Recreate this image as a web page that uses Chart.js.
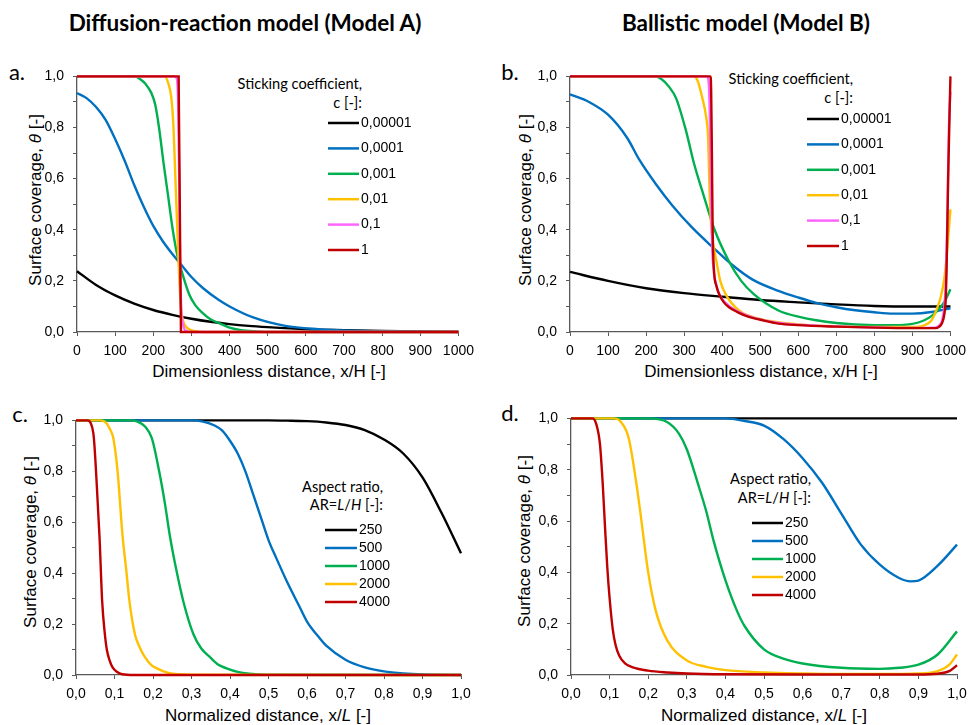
<!DOCTYPE html>
<html>
<head>
<meta charset="utf-8">
<script src="https://cdn.jsdelivr.net/npm/chart.js@4.4.1/dist/chart.umd.min.js"></script>
<style>
  body { margin: 0; background: #fff; }
  #fig { position: relative; width: 968px; height: 725px; overflow: hidden; background: #fff;
         font-family: "Liberation Sans", Arial, sans-serif; color: #000; }
  canvas { position: absolute; }
  .t { position: absolute; white-space: nowrap; line-height: 1; }
  .c { transform: translate(-50%, -50%); }
  .r { transform: translate(-100%, -50%); }
  .head { font-family: Lato, sans-serif; font-weight: bold; font-size: 22.5px; }
  .lab { font-family: Lato, sans-serif; font-size: 22px; }
  .xt { font-size: 17px; }
  .yt { font-size: 17px; transform: translate(-50%, -50%) rotate(-90deg); }
  .lt { font-family: Lato, sans-serif; font-size: 14.6px; }
</style>
</head>
<body>
<div id="fig">
  <div class="t c head" style="left:245px;top:23px">Diffusion-reaction model (Model A)</div>
  <div class="t c head" style="left:746px;top:23px">Ballistic model (Model B)</div>

  <div class="t c lab" style="left:17px;top:72px">a.</div>
  <div class="t c lab" style="left:510px;top:72px">b.</div>
  <div class="t c lab" style="left:20px;top:414px">c.</div>
  <div class="t c lab" style="left:510px;top:413px">d.</div>

  <div class="t yt" style="left:35px;top:200px">Surface coverage, <i>θ</i> [-]</div>
  <div class="t yt" style="left:525px;top:200px">Surface coverage, <i>θ</i> [-]</div>
  <div class="t yt" style="left:30px;top:542px">Surface coverage, <i>θ</i> [-]</div>
  <div class="t yt" style="left:524px;top:541px">Surface coverage, <i>θ</i> [-]</div>

  <div class="t c xt" style="left:269px;top:371px">Dimensionless distance, x/H [-]</div>
  <div class="t c xt" style="left:761px;top:371px">Dimensionless distance, x/H [-]</div>
  <div class="t c xt" style="left:268px;top:715px">Normalized distance, x/<i>L</i> [-]</div>
  <div class="t c xt" style="left:764px;top:715px">Normalized distance, x/<i>L</i> [-]</div>

  <div class="t r lt" style="left:362px;top:84px">Sticking coefficient,</div>
  <div class="t r lt" style="left:362px;top:103px">c [-]:</div>
  <div class="t r lt" style="left:853px;top:79px">Sticking coefficient,</div>
  <div class="t r lt" style="left:853px;top:98px">c [-]:</div>
  <div class="t r lt" style="left:383px;top:487px">Aspect ratio,</div>
  <div class="t r lt" style="left:383px;top:505px">AR=<i>L</i>/<i>H</i> [-]:</div>
  <div class="t r lt" style="left:811px;top:479px">Aspect ratio,</div>
  <div class="t r lt" style="left:811px;top:498px">AR=<i>L</i>/<i>H</i> [-]:</div>

  <canvas id="chartA"></canvas>
  <canvas id="chartB"></canvas>
  <canvas id="chartC"></canvas>
  <canvas id="chartD"></canvas>
</div>

<script>
// legend labels
const stickLabels = ['0,00001', '0,0001', '0,001', '0,01', '0,1', '1'];
const arLabels = ['250', '500', '1000', '2000', '4000'];
const colors6 = ['#000000', '#0070C0', '#00B050', '#FFC000', '#FF66FF', '#C00000'];
const colors5 = ['#000000', '#0070C0', '#00B050', '#FFC000', '#C00000'];

// ---- panel a: diffusion-reaction, x/H ----
const aX1 = [0, 50, 100, 150, 200, 250, 300, 350, 400, 450, 500, 600, 700, 800, 900, 1000];
const aY1 = [0.238, 0.184, 0.143, 0.111, 0.086, 0.067, 0.052, 0.04, 0.031, 0.024, 0.019, 0.011, 0.007, 0.004, 0.002, 0.001];
const aX2 = [0, 25, 50, 75, 100, 125, 150, 175, 200, 225, 250, 275, 300, 330, 372, 400, 460, 546, 633, 720, 800, 900, 1000];
const aY2 = [0.935, 0.915, 0.88, 0.83, 0.755, 0.67, 0.575, 0.49, 0.415, 0.355, 0.305, 0.26, 0.215, 0.172, 0.125, 0.1, 0.058, 0.024, 0.011, 0.005, 0.003, 0.001, 0];
const aX3 = [0, 150, 165, 180, 195, 205, 215, 227, 240, 251, 263, 277, 294, 310, 329, 350, 372, 400, 430, 470, 500, 1000];
const aY3 = [1, 1, 0.99, 0.97, 0.935, 0.89, 0.8, 0.66, 0.52, 0.4, 0.3, 0.225, 0.148, 0.105, 0.075, 0.05, 0.035, 0.017, 0.007, 0.002, 0, 0];
const aX4 = [0, 230, 240, 247, 253, 258, 263, 268, 273, 278, 285, 295, 310, 330, 1000];
const aY4 = [1, 1, 0.97, 0.92, 0.8, 0.6, 0.4, 0.21, 0.09, 0.045, 0.022, 0.01, 0.003, 0, 0];
const aX5 = [0, 255, 262, 265, 268, 270, 273, 278, 285, 300, 1000];
const aY5 = [1, 1, 0.99, 0.9, 0.6, 0.3, 0.1, 0.03, 0.005, 0, 0];
const aX6 = [0, 266.5, 272.5, 1000];
const aY6 = [1, 1, 0, 0];

// ---- panel b: ballistic, x/H ----
const bX1 = [0, 100, 200, 300, 400, 500, 600, 700, 800, 900, 1000];
const bY1 = [0.235, 0.2, 0.171, 0.152, 0.138, 0.125, 0.116, 0.108, 0.102, 0.1, 0.1];
const bX2 = [0, 50, 100, 150, 183, 225, 270, 320, 374, 426, 480, 548, 600, 650, 700, 750, 800, 850, 900, 950, 1000];
const bY2 = [0.93, 0.9, 0.85, 0.76, 0.672, 0.58, 0.493, 0.41, 0.333, 0.263, 0.205, 0.161, 0.135, 0.113, 0.097, 0.085, 0.077, 0.072, 0.072, 0.078, 0.093];
const bX3 = [0, 220, 240, 260, 279, 305, 326, 352, 379, 418, 450, 483, 548, 600, 700, 800, 850, 900, 930, 950, 970, 985, 1000];
const bY3 = [1, 1, 0.99, 0.96, 0.914, 0.787, 0.659, 0.531, 0.404, 0.276, 0.2, 0.148, 0.084, 0.06, 0.035, 0.027, 0.027, 0.032, 0.045, 0.062, 0.09, 0.12, 0.167];
const bX4 = [0, 325, 335, 348, 358, 363, 367, 371, 378, 385, 395, 409, 444, 496, 600, 700, 800, 900, 930, 950, 966, 975, 984, 992, 1000];
const bY4 = [1, 1, 0.985, 0.914, 0.84, 0.76, 0.55, 0.42, 0.33, 0.276, 0.2, 0.148, 0.084, 0.052, 0.03, 0.022, 0.02, 0.02, 0.025, 0.045, 0.097, 0.14, 0.21, 0.33, 0.48];
const bX5 = [0, 360, 365, 368, 371, 374, 378, 385, 395, 420, 470, 550, 700, 800, 900, 960, 970, 978, 984, 988, 992, 996, 1000];
const bY5 = [1, 1, 0.97, 0.8, 0.5, 0.32, 0.24, 0.18, 0.14, 0.1, 0.062, 0.035, 0.022, 0.018, 0.016, 0.017, 0.025, 0.045, 0.1, 0.2, 0.45, 0.8, 0.94];
const bX6 = [0, 369, 371, 373, 375, 378, 385, 392, 405, 418, 440, 470, 500, 548, 600, 700, 800, 900, 960, 970, 978, 984, 988, 990, 994, 1000];
const bY6 = [1, 1, 0.95, 0.7, 0.4, 0.25, 0.18, 0.148, 0.115, 0.097, 0.078, 0.059, 0.048, 0.033, 0.027, 0.021, 0.017, 0.015, 0.015, 0.02, 0.035, 0.07, 0.14, 0.25, 0.6, 1.0];

// ---- panel c: diffusion-reaction, x/L ----
const cX1 = [0, 0.5, 0.55, 0.6, 0.65, 0.7, 0.75, 0.8, 0.85, 0.9, 0.95, 1.0];
const cY1 = [1, 1, 0.999, 0.997, 0.992, 0.982, 0.962, 0.925, 0.87, 0.776, 0.635, 0.478];
const cX2 = [0, 0.3, 0.33, 0.36, 0.38, 0.4, 0.42, 0.44, 0.46, 0.48, 0.5, 0.52, 0.55, 0.58, 0.6, 0.63, 0.65, 0.7, 0.75, 0.8, 0.85, 0.9, 1.0];
const cY2 = [1, 1, 0.995, 0.98, 0.96, 0.92, 0.87, 0.8, 0.71, 0.62, 0.53, 0.46, 0.36, 0.27, 0.21, 0.15, 0.115, 0.06, 0.03, 0.014, 0.006, 0.002, 0];
const cX3 = [0, 0.14, 0.16, 0.18, 0.197, 0.216, 0.231, 0.244, 0.26, 0.279, 0.305, 0.325, 0.348, 0.37, 0.391, 0.42, 0.45, 0.5, 1.0];
const cY3 = [1, 1, 0.995, 0.975, 0.93, 0.8, 0.673, 0.545, 0.417, 0.288, 0.16, 0.105, 0.07, 0.04, 0.026, 0.012, 0.005, 0.001, 0];
const cX4 = [0, 0.06, 0.075, 0.09, 0.097, 0.108, 0.121, 0.13, 0.139, 0.153, 0.165, 0.179, 0.195, 0.21, 0.24, 0.3, 1.0];
const cY4 = [1, 1, 0.995, 0.96, 0.93, 0.8, 0.545, 0.42, 0.288, 0.16, 0.11, 0.07, 0.04, 0.026, 0.008, 0.001, 0];
const cX5 = [0, 0.03, 0.038, 0.045, 0.048, 0.052, 0.061, 0.068, 0.075, 0.08, 0.087, 0.095, 0.106, 0.12, 0.15, 1.0];
const cY5 = [1, 1, 0.99, 0.95, 0.9, 0.8, 0.545, 0.288, 0.16, 0.1, 0.058, 0.03, 0.013, 0.003, 0, 0];

// ---- panel d: ballistic, x/L ----
const dX1 = [0, 1.0];
const dY1 = [1, 1];
const dX2 = [0, 0.4, 0.45, 0.5, 0.55, 0.6, 0.65, 0.7, 0.75, 0.8, 0.85, 0.88, 0.9, 0.95, 1.0];
const dY2 = [1, 1, 0.99, 0.972, 0.92, 0.845, 0.75, 0.63, 0.51, 0.43, 0.378, 0.365, 0.368, 0.426, 0.508];
const dX3 = [0, 0.2, 0.25, 0.28, 0.3, 0.33, 0.35, 0.37, 0.4, 0.43, 0.45, 0.5, 0.55, 0.6, 0.7, 0.8, 0.85, 0.9, 0.95, 1.0];
const dY3 = [1, 1, 0.985, 0.94, 0.88, 0.74, 0.64, 0.52, 0.37, 0.25, 0.19, 0.1, 0.064, 0.045, 0.028, 0.024, 0.028, 0.04, 0.08, 0.17];
const dX4 = [0, 0.11, 0.13, 0.15, 0.17, 0.18, 0.2, 0.22, 0.25, 0.3, 0.35, 0.4, 0.5, 0.6, 0.7, 0.8, 0.9, 0.95, 0.98, 1.0];
const dY4 = [1, 1, 0.985, 0.92, 0.74, 0.63, 0.4, 0.248, 0.133, 0.057, 0.032, 0.019, 0.01, 0.006, 0.004, 0.004, 0.006, 0.015, 0.04, 0.08];
const dX5 = [0, 0.055, 0.065, 0.075, 0.082, 0.088, 0.094, 0.1, 0.108, 0.115, 0.125, 0.14, 0.16, 0.2, 0.25, 0.3, 0.4, 0.6, 0.9, 0.95, 0.98, 1.0];
const dY5 = [1, 1, 0.98, 0.9, 0.75, 0.58, 0.42, 0.3, 0.18, 0.12, 0.075, 0.045, 0.03, 0.017, 0.01, 0.006, 0.003, 0.002, 0.002, 0.005, 0.015, 0.038];

const axisColor = '#595959';
const tickFont = { family: '"Liberation Sans", Arial, sans-serif', size: 14 };

// draws the little line + label legend inside the plot
const lineLegend = {
  id: 'lineLegend',
  afterDraw(chart, args, o) {
    const ctx = chart.ctx;
    ctx.save();
    ctx.font = '14px "Liberation Sans", Arial, sans-serif';
    ctx.textBaseline = 'middle';
    chart.data.datasets.forEach((ds, i) => {
      const y = o.y + i * o.dy;
      ctx.strokeStyle = ds.borderColor;
      ctx.lineWidth = 2.5;
      ctx.beginPath();
      ctx.moveTo(o.x, y);
      ctx.lineTo(o.x + o.len, y);
      ctx.stroke();
      ctx.fillStyle = '#000';
      ctx.fillText(ds.label, o.x + o.len + 2, y);
    });
    ctx.restore();
  }
};

function fmtComma(v, digits) {
  return v.toFixed(digits).replace('.', ',');
}

function makePanel(id, area, xMax, xStep, xDigits, series, labels, cols, leg) {
  const L = 70, T = 12, R = 20, B = 30;
  const cv = document.getElementById(id);
  const left = area.l - L, top = area.t - T;
  cv.width = area.r - area.l + L + R;
  cv.height = area.b - area.t + T + B;
  cv.style.left = left + 'px';
  cv.style.top = top + 'px';

  const datasets = series.map((s, i) => ({
    label: labels[i],
    data: s[0].map((x, k) => ({ x: x, y: s[1][k] })),
    borderColor: cols[i],
    borderWidth: 2.4,
    pointRadius: 0,
    showLine: true,
    fill: false,
    clip: 5,
    cubicInterpolationMode: s[2] ? 'default' : 'monotone',
    tension: 0,
    order: series.length - i
  }));

  new Chart(cv, {
    type: 'scatter',
    data: { datasets: datasets },
    options: {
      responsive: false,
      animation: false,
      events: [],
      layout: { padding: { top: T, right: R, left: 0, bottom: 0 } },
      plugins: {
        legend: { display: false },
        tooltip: { enabled: false },
        lineLegend: { x: leg.x - left, y: leg.y - top, dy: leg.dy, len: leg.len }
      },
      scales: {
        x: {
          type: 'linear', min: 0, max: xMax,
          ticks: {
            stepSize: xStep, autoSkip: false, maxRotation: 0, padding: 7,
            color: '#000', font: tickFont,
            callback: v => xDigits ? fmtComma(v, xDigits) : String(Math.round(v))
          },
          grid: { display: true, drawOnChartArea: false, drawTicks: true, tickLength: 4, color: axisColor },
          border: { display: true, color: axisColor, width: 1.3 },
          afterFit: s => { s.height = B; }
        },
        y: {
          type: 'linear', min: 0, max: 1,
          ticks: {
            stepSize: 0.1, autoSkip: false, padding: 9,
            color: '#000', font: tickFont,
            callback: v => (Math.round(v * 10) % 2 === 0) ? fmtComma(v, 1) : ''
          },
          grid: { display: true, drawOnChartArea: false, drawTicks: true, tickLength: 4, color: axisColor },
          border: { display: true, color: axisColor, width: 1.3 },
          afterFit: s => { s.width = L; }
        }
      }
    },
    plugins: [lineLegend]
  });
}

makePanel('chartA', { l: 77, t: 71, r: 461, b: 332 }, 1000, 100, 0,
  [[aX1, aY1], [aX2, aY2], [aX3, aY3], [aX4, aY4], [aX5, aY5], [aX6, aY6, true]],
  stickLabels, colors6, { x: 328, y: 123, dy: 25.4, len: 31 });

makePanel('chartB', { l: 570, t: 71, r: 953, b: 332 }, 1000, 100, 0,
  [[bX1, bY1], [bX2, bY2], [bX3, bY3], [bX4, bY4], [bX5, bY5], [bX6, bY6]],
  stickLabels, colors6, { x: 807, y: 119, dy: 25.4, len: 32 });

makePanel('chartC', { l: 76, t: 415, r: 461, b: 675 }, 1, 0.1, 1,
  [[cX1, cY1], [cX2, cY2], [cX3, cY3], [cX4, cY4], [cX5, cY5]],
  arLabels, colors5, { x: 325, y: 530, dy: 18, len: 32 });

makePanel('chartD', { l: 571, t: 413, r: 957, b: 675 }, 1, 0.1, 1,
  [[dX1, dY1], [dX2, dY2], [dX3, dY3], [dX4, dY4], [dX5, dY5]],
  arLabels, colors5, { x: 752, y: 523, dy: 18, len: 31 });
</script>
</body>
</html>
